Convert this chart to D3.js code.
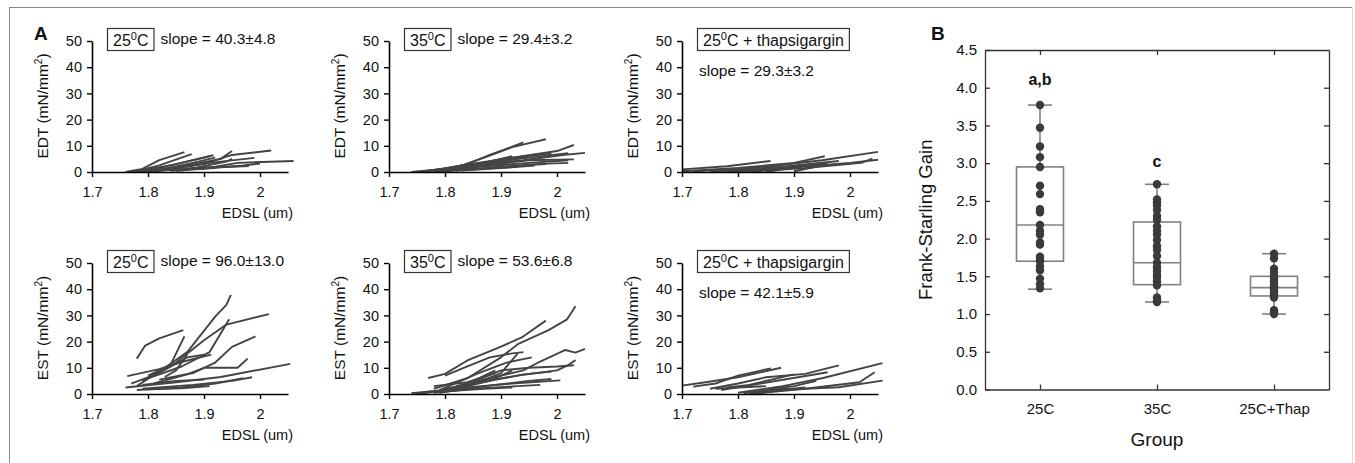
<!DOCTYPE html>
<html>
<head>
<meta charset="utf-8">
<script src="https://cdn.jsdelivr.net/npm/d3@7"></script>
<style>
  body { margin: 0; background: #fff; }
  text { font-family: "Liberation Sans", Arial, sans-serif; fill: #111; }
</style>
</head>
<body>
<svg id="chart" width="1355" height="463"></svg>
<script>
// ---------- panel A data: end-diastolic tension / stress vs sarcomere length ----------
const xTicks = [1.7, 1.8, 1.9, 2];
const yTicks = [0, 10, 20, 30, 40, 50];

const edt25 = [
  [[1.76,0],[1.79,1.2],[1.82,4.5],[1.865,7.6]],
  [[1.78,0.3],[1.82,2.5],[1.878,6.8]],
  [[1.79,0.5],[1.85,3.0],[1.917,6.4]],
  [[1.80,0.4],[1.87,2.5],[1.93,5.0],[1.95,8.0]],
  [[1.82,0.6],[1.90,3.0],[1.95,6.5],[2.02,8.2]],
  [[1.84,0.5],[1.92,2.0],[1.96,3.5],[2.06,4.2]],
  [[1.83,0.8],[1.91,3.5],[1.99,5.4]],
  [[1.85,0.5],[1.93,1.8],[1.97,2.5],[2.0,3.2]],
  [[1.80,0.3],[1.88,1.5],[1.95,2.0],[1.98,2.3]],
  [[1.79,0.2],[1.86,1.0],[1.92,1.5]],
  [[1.78,0.1],[1.84,0.8],[1.90,1.2]],
  [[1.81,0.3],[1.88,3.5],[1.92,5.5]],
  [[1.86,0.5],[1.94,4.0],[1.95,5.0]],
  [[1.77,0],[1.83,2.0],[1.86,3.5],[1.91,6.0]]
];
const edt35 = [
  [[1.74,0],[1.80,1.2],[1.84,3.0],[1.88,6.5],[1.94,11.3]],
  [[1.75,0],[1.82,1.8],[1.87,5.5],[1.92,9.5],[1.98,12.5]],
  [[1.76,0],[1.83,2.5],[1.92,5.5],[2.0,8.0],[2.03,10.3]],
  [[1.77,0.2],[1.84,2.8],[1.93,5.0],[2.02,7.2]],
  [[1.78,0.3],[1.85,2.5],[1.94,4.5],[2.01,6.5],[2.05,7.3]],
  [[1.79,0.3],[1.86,2.0],[1.95,3.5],[2.02,4.5]],
  [[1.80,0.5],[1.87,2.5],[1.95,4.5],[2.03,4.8]],
  [[1.80,0.4],[1.88,1.5],[1.96,3.0],[2.02,3.5]],
  [[1.81,0.5],[1.89,3.5],[1.95,6.0]],
  [[1.82,0.5],[1.90,2.0],[1.98,3.0]],
  [[1.78,0.2],[1.86,1.2],[1.93,2.0]],
  [[1.80,0.4],[1.88,4.0],[1.92,6.0]],
  [[1.83,0.6],[1.90,1.5],[1.96,2.5]],
  [[1.84,1.0],[1.92,5.5],[1.99,7.0]]
];
const edtThap = [
  [[1.70,1.0],[1.78,2.2],[1.858,4.2]],
  [[1.70,0.3],[1.80,1.5],[1.90,3.5],[1.955,6.0]],
  [[1.72,0.2],[1.85,2.0],[1.95,4.5],[2.05,7.7]],
  [[1.75,0.1],[1.88,2.0],[1.98,4.2]],
  [[1.80,0.2],[1.90,1.8],[2.0,3.5],[2.05,4.7]],
  [[1.82,0.1],[1.92,1.5],[2.02,3.5],[2.04,5.1]],
  [[1.78,0.2],[1.86,1.0],[1.93,2.5]],
  [[1.85,0],[1.92,2.5],[1.96,3.5]],
  [[1.76,0.5],[1.84,1.2],[1.90,2.0]],
  [[1.90,0.3],[1.95,2.5],[2.0,3.2]]
];
const est25 = [
  [[1.78,13.5],[1.795,18.5],[1.82,21.2],[1.863,24.4]],
  [[1.78,3.0],[1.83,10.0],[1.87,16.0],[1.92,29.5],[1.94,34.0],[1.948,37.8]],
  [[1.79,5.0],[1.85,12.0],[1.90,20.5],[1.94,26.5],[2.016,30.5]],
  [[1.80,6.0],[1.86,10.5],[1.91,16.0],[1.945,28.5]],
  [[1.763,6.8],[1.82,9.5],[1.865,12.5],[1.913,15.0]],
  [[1.80,7.0],[1.84,11.0],[1.865,22.0]],
  [[1.82,5.5],[1.88,8.0],[1.92,12.0],[1.95,18.0],[1.992,22.0]],
  [[1.81,4.0],[1.87,7.5],[1.90,10.0],[1.96,10.0],[1.978,13.5]],
  [[1.76,2.5],[1.85,4.5],[1.93,6.5],[2.054,11.5]],
  [[1.79,2.0],[1.88,3.5],[1.95,5.0],[1.986,6.4]],
  [[1.78,1.5],[1.86,2.5],[1.92,4.0],[1.97,6.0]],
  [[1.79,3.5],[1.85,5.0],[1.90,5.5]],
  [[1.80,1.8],[1.86,2.2],[1.91,3.0]],
  [[1.77,4.0],[1.82,8.0],[1.87,14.0],[1.90,15.0]],
  [[1.83,6.5],[1.85,9.0],[1.87,15.0]]
];
const est35 = [
  [[1.77,6.1],[1.80,7.7],[1.84,12.8],[1.90,18.1],[1.937,21.6],[1.98,28.0]],
  [[1.78,2.0],[1.84,6.0],[1.90,14.0],[1.93,19.0],[1.985,24.4],[2.018,28.5],[2.033,33.5]],
  [[1.80,7.0],[1.84,10.5],[1.88,14.0],[1.92,15.5],[1.94,16.0]],
  [[1.82,3.0],[1.88,6.0],[1.94,9.0],[1.97,12.4],[2.015,16.8],[2.033,15.8],[2.05,17.2]],
  [[1.80,2.0],[1.87,5.0],[1.93,7.0],[2.0,9.0],[2.02,11.0],[2.033,13.0]],
  [[1.79,1.5],[1.86,8.0],[1.91,12.0],[1.955,14.0]],
  [[1.74,0.3],[1.80,1.5],[1.86,4.5],[1.90,8.0],[1.93,15.5]],
  [[1.75,0.2],[1.82,2.0],[1.88,5.0],[1.94,7.5],[1.99,8.6]],
  [[1.76,0.3],[1.84,2.5],[1.92,4.0],[2.006,5.2]],
  [[1.78,0.5],[1.85,2.0],[1.93,3.0],[1.97,3.5]],
  [[1.79,0.5],[1.87,3.0],[1.95,5.0],[1.99,5.7]],
  [[1.80,1.0],[1.87,2.0],[1.92,2.5]],
  [[1.81,1.5],[1.86,6.0],[1.89,9.0]],
  [[1.82,2.0],[1.90,9.0],[1.95,10.0],[2.0,10.5],[2.03,11.0]],
  [[1.83,3.0],[1.88,5.0],[1.92,9.0]],
  [[1.78,3.0],[1.84,4.5],[1.89,8.0]]
];
const estThap = [
  [[1.70,3.2],[1.742,4.5],[1.80,6.4],[1.877,10.0]],
  [[1.72,2.8],[1.76,4.0],[1.80,7.0],[1.859,9.8]],
  [[1.75,2.0],[1.80,4.0],[1.85,6.4],[1.92,7.7],[1.98,10.9]],
  [[1.77,1.5],[1.84,4.0],[1.91,6.5],[1.96,8.3]],
  [[1.80,0.5],[1.88,3.0],[1.95,6.0],[2.058,11.8]],
  [[1.82,0.3],[1.90,1.8],[1.98,2.6],[2.058,5.1]],
  [[1.83,0.2],[1.92,2.0],[2.017,4.5],[2.044,8.3]],
  [[1.78,2.5],[1.82,3.5],[1.86,5.5],[1.90,7.5]],
  [[1.81,0.3],[1.85,1.5],[1.89,2.0]],
  [[1.83,0.1],[1.86,2.0],[1.90,3.0],[1.94,5.0]],
  [[1.76,2.0],[1.80,2.5],[1.85,3.0]],
  [[1.84,0.2],[1.87,1.5],[1.92,2.5]]
];

const tempLabels = ["25", "35", "25"];
const tempSuffix = ["", "", " + thapsigargin"];
const slopes = ["40.3±4.8", "29.4±3.2", "29.3±3.2", "96.0±13.0", "53.6±6.8", "42.1±5.9"];
const yTitles = ["EDT", "EST"];

// ---------- panel B data: Frank-Starling gain ----------
const groups = ["25C", "35C", "25C+Thap"];
const gain25 = [3.77,3.47,3.22,3.08,2.95,2.70,2.59,2.39,2.35,2.18,2.10,2.05,1.95,1.92,1.76,1.72,1.70,1.63,1.58,1.47,1.40,1.34];
const gain35 = [2.72,2.52,2.48,2.44,2.38,2.30,2.25,2.16,2.10,2.05,1.98,1.90,1.85,1.77,1.68,1.62,1.57,1.52,1.48,1.43,1.38,1.22,1.18,1.16];
const gainThap = [1.80,1.74,1.60,1.55,1.50,1.47,1.43,1.40,1.37,1.35,1.33,1.30,1.27,1.25,1.22,1.05,1.02,1.00];
const q1s = [1.70, 1.39, 1.24];
const medians = [2.18, 1.68, 1.35];
const q3s = [2.95, 2.22, 1.50];
const whiskLo = [1.33, 1.16, 1.00];
const whiskHi = [3.77, 2.72, 1.80];
const sigLabels = ["a,b", "c", ""];
const sigY = [4.04, 2.95, 0];
const gainTicks = [0, 0.5, 1, 1.5, 2, 2.5, 3, 3.5, 4, 4.5];

const svg = d3.select("#chart");
const FONT = '"Liberation Sans", Arial, sans-serif';

// outer figure frame
svg.append("line").attr("x1", 9).attr("x2", 1352).attr("y1", 7.5).attr("y2", 7.5)
  .attr("stroke", "#888").attr("stroke-width", 1);
svg.append("line").attr("x1", 9.5).attr("x2", 9.5).attr("y1", 7).attr("y2", 463)
  .attr("stroke", "#888").attr("stroke-width", 1);
svg.append("line").attr("x1", 1352.5).attr("x2", 1352.5).attr("y1", 7).attr("y2", 463)
  .attr("stroke", "#ddd").attr("stroke-width", 1);

svg.append("text").attr("x", 34).attr("y", 40).attr("font-size", 19)
  .attr("font-weight", "bold").text("A");
svg.append("text").attr("x", 931).attr("y", 40).attr("font-size", 19)
  .attr("font-weight", "bold").text("B");

const colX = [92, 389, 682];
const rowBase = [172, 394];
const panelLines = [edt25, edt35, edtThap, est25, est35, estThap];

const line = d3.line();

function drawPanel(col, row) {
  const idx = row * 3 + col;
  const x0 = colX[col], yb = rowBase[row];
  const x = d3.scaleLinear().domain([1.7, 2.05]).range([x0, x0 + 196]);
  const y = d3.scaleLinear().domain([0, 50]).range([yb, yb - 131]);
  const g = svg.append("g");

  // curves first, axes over them
  g.selectAll("path.curve")
    .data(panelLines[idx])
    .enter()
    .append("path")
    .attr("class", "curve")
    .attr("d", d => line(d.map(p => [x(p[0]), y(p[1])])))
    .attr("fill", "none")
    .attr("stroke", "#444")
    .attr("stroke-width", 1.9)
    .attr("stroke-linejoin", "round");

  const ya = g.append("g").attr("transform", `translate(${x0},0)`)
    .call(d3.axisLeft(y).tickValues(yTicks).tickSize(5).tickSizeOuter(0).tickPadding(5));
  const xa = g.append("g").attr("transform", `translate(0,${yb})`)
    .call(d3.axisBottom(x).tickValues(xTicks)
      .tickFormat(d => d === 2 ? "2" : d.toFixed(1))
      .tickSize(5).tickSizeOuter(0).tickPadding(10));
  [ya, xa].forEach(a => {
    a.selectAll("path").attr("stroke", "#000").attr("stroke-width", 1.6);
    a.selectAll("line").attr("stroke", "#000").attr("stroke-width", 1.4);
    a.selectAll("text").attr("font-size", 14.5).attr("fill", "#111")
      .attr("font-family", FONT);
  });

  // axis titles
  const yt = g.append("text")
    .attr("transform", `translate(${x0 - 44},${yb - 66}) rotate(-90)`)
    .attr("text-anchor", "middle").attr("font-size", 15.5);
  yt.append("tspan").text(yTitles[row] + " (mN/mm");
  yt.append("tspan").attr("font-size", 10).attr("dy", -6).text("2");
  yt.append("tspan").attr("dy", 6).text(")");

  g.append("text").attr("x", x0 + 201).attr("y", yb + 46)
    .attr("text-anchor", "end").attr("font-size", 14.5).text("EDSL (um)");

  // condition box
  const bt = g.append("text").attr("x", x0 + 21).attr("y", yb - 126)
    .attr("font-size", 16);
  bt.append("tspan").text(tempLabels[col]);
  bt.append("tspan").attr("font-size", 11).attr("dy", -6.5).text("0");
  bt.append("tspan").attr("dy", 6.5).text("C" + tempSuffix[col]);
  const w = bt.node().getComputedTextLength();
  g.insert("rect", () => bt.node())
    .attr("x", x0 + 15.5).attr("y", yb - 143.5)
    .attr("width", w + 11).attr("height", 22)
    .attr("fill", "#fff").attr("stroke", "#333").attr("stroke-width", 1.2);

  if (col < 2) {
    g.append("text").attr("x", x0 + 15 + w + 11 + 7).attr("y", yb - 128)
      .attr("font-size", 15.5).text("slope = " + slopes[idx]);
  } else {
    g.append("text").attr("x", x0 + 17).attr("y", yb - 96)
      .attr("font-size", 15.5).text("slope = " + slopes[idx]);
  }
}

for (let r = 0; r < 2; r++) for (let c = 0; c < 3; c++) drawPanel(c, r);

// ---------- panel B ----------
const bx0 = 985, bx1 = 1329, by0 = 389.5, by1 = 50;
const yB = d3.scaleLinear().domain([0, 4.5]).range([by0, by1]);
const xB = d3.scalePoint().domain(groups).range([bx0, bx1]).padding(0.47);
const gB = svg.append("g");

const axL = gB.append("g").attr("transform", `translate(${bx0},0)`)
  .call(d3.axisLeft(yB).tickValues(gainTicks).tickFormat(d3.format(".1f"))
    .tickSize(-5).tickSizeOuter(0).tickPadding(8));
const axR = gB.append("g").attr("transform", `translate(${bx1},0)`)
  .call(d3.axisRight(yB).tickValues(gainTicks.slice(1, -1)).tickFormat("")
    .tickSize(-5).tickSizeOuter(0));
const axT = gB.append("g").attr("transform", `translate(0,${by1})`)
  .call(d3.axisTop(xB).tickFormat("").tickSize(-5).tickSizeOuter(0));
const axB = gB.append("g").attr("transform", `translate(0,${by0})`)
  .call(d3.axisBottom(xB).tickSize(-5).tickSizeOuter(0).tickPadding(14));
[axL, axR, axT, axB].forEach(a => {
  a.selectAll("path").attr("stroke", "#333").attr("stroke-width", 1.3);
  a.selectAll("line").attr("stroke", "#333").attr("stroke-width", 1.3);
  a.selectAll("text").attr("font-size", 15).attr("fill", "#111")
    .attr("font-family", FONT);
});

gB.append("text")
  .attr("transform", `translate(${bx0 - 53},${(by0 + by1) / 2}) rotate(-90)`)
  .attr("text-anchor", "middle").attr("font-size", 18.5).text("Frank-Starling Gain");
gB.append("text").attr("x", (bx0 + bx1) / 2).attr("y", 446)
  .attr("text-anchor", "middle").attr("font-size", 19).text("Group");

const boxStats = groups.map((g, i) => ({
  g, q1: q1s[i], med: medians[i], q3: q3s[i], lo: whiskLo[i], hi: whiskHi[i],
  values: [gain25, gain35, gainThap][i], sig: sigLabels[i], sigY: sigY[i]
}));

const bw = 47, cw = 24, boxCol = "#808080";
const bg = gB.selectAll("g.box").data(boxStats).enter().append("g").attr("class", "box");

bg.append("line").attr("x1", d => xB(d.g)).attr("x2", d => xB(d.g))
  .attr("y1", d => yB(d.hi)).attr("y2", d => yB(d.q3))
  .attr("stroke", boxCol).attr("stroke-width", 1.6);
bg.append("line").attr("x1", d => xB(d.g)).attr("x2", d => xB(d.g))
  .attr("y1", d => yB(d.q1)).attr("y2", d => yB(d.lo))
  .attr("stroke", boxCol).attr("stroke-width", 1.6);
bg.append("line").attr("x1", d => xB(d.g) - cw / 2).attr("x2", d => xB(d.g) + cw / 2)
  .attr("y1", d => yB(d.hi)).attr("y2", d => yB(d.hi))
  .attr("stroke", boxCol).attr("stroke-width", 1.6);
bg.append("line").attr("x1", d => xB(d.g) - cw / 2).attr("x2", d => xB(d.g) + cw / 2)
  .attr("y1", d => yB(d.lo)).attr("y2", d => yB(d.lo))
  .attr("stroke", boxCol).attr("stroke-width", 1.6);
bg.append("rect").attr("x", d => xB(d.g) - bw / 2).attr("width", bw)
  .attr("y", d => yB(d.q3)).attr("height", d => yB(d.q1) - yB(d.q3))
  .attr("fill", "none").attr("stroke", boxCol).attr("stroke-width", 1.6);
bg.append("line").attr("x1", d => xB(d.g) - bw / 2).attr("x2", d => xB(d.g) + bw / 2)
  .attr("y1", d => yB(d.med)).attr("y2", d => yB(d.med))
  .attr("stroke", boxCol).attr("stroke-width", 1.6);

bg.selectAll("circle").data(d => d.values.map(v => ({ g: d.g, v })))
  .enter().append("circle")
  .attr("cx", d => xB(d.g)).attr("cy", d => yB(d.v)).attr("r", 4.2)
  .attr("fill", "#3a3a3a");

bg.filter(d => d.sig !== "").append("text")
  .attr("x", d => xB(d.g)).attr("y", d => yB(d.sigY))
  .attr("text-anchor", "middle").attr("font-size", 16).attr("font-weight", "bold")
  .text(d => d.sig);
</script>
</body>
</html>
